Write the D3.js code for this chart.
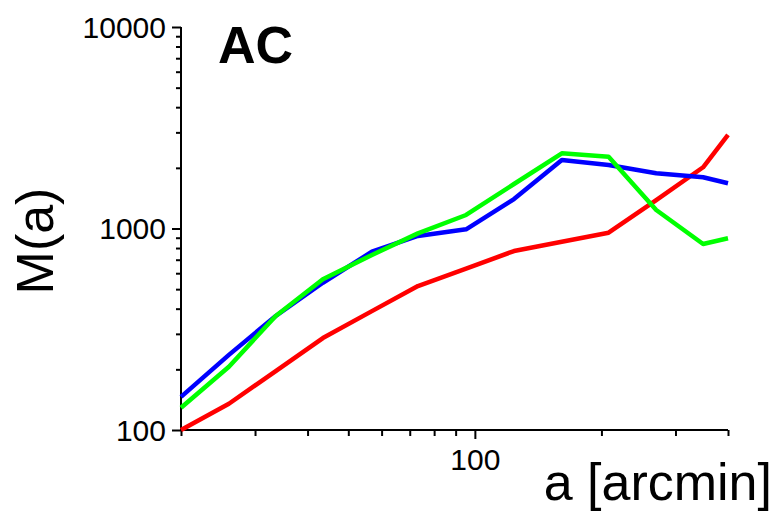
<!DOCTYPE html>
<html>
<head>
<meta charset="utf-8">
<script src="https://cdn.jsdelivr.net/npm/d3@7"></script>
<style>
  body { margin: 0; background: #fff; }
  svg { display: block; font-family: "Liberation Sans", Arial, sans-serif; }
</style>
</head>
<body>
<svg id="chart" width="779" height="513"></svg>
<script>
// data (a in arcmin, M(a))
var aValues = [20, 26, 33.6, 43.5, 56.9, 73.2, 95.3, 123.9, 161, 208, 270, 349, 400];
var blueM  = [146, 236, 368, 538, 767, 918, 991, 1400, 2188, 2065, 1879, 1795, 1676];
var greenM = [129, 206, 368, 560, 739, 946, 1167, 1663, 2361, 2270, 1236, 838, 894];
var redM   = [100, 135, 196, 286, 389, 518, 633, 773, 860, 953, 1384, 2013, 2911];

var xMajor = [100];
var xMinor = [20, 30, 40, 50, 60, 70, 80, 90, 200, 300, 400];
var yMajor = [100, 1000, 10000];
var yMinor = [200, 300, 400, 500, 600, 700, 800, 900, 2000, 3000, 4000, 5000, 6000, 7000, 8000, 9000];

var svg = d3.select("#chart");

var x = d3.scaleLog().domain([20, 400]).range([181, 728]);
var y = d3.scaleLog().domain([100, 10000]).range([430, 27]);

// axes: minor and major ticks in their own groups
function axisGroup(axis, transform) {
  var g = svg.append("g").attr("transform", transform).call(axis);
  g.select(".domain").remove();
  g.selectAll(".tick line").attr("stroke", "#000").attr("stroke-width", 2);
  g.selectAll("text").attr("font-size", 30).attr("fill", "#000")
    .attr("font-family", "Liberation Sans, Arial, sans-serif");
  return g;
}

axisGroup(d3.axisBottom(x).tickValues(xMinor).tickSize(6).tickFormat(""), "translate(0,430)");
var gx = axisGroup(d3.axisBottom(x).tickValues(xMajor).tickSize(9).tickFormat(d3.format("d")), "translate(0,430)");
gx.selectAll("text").attr("y", 19).attr("dy", "0.71em");

axisGroup(d3.axisLeft(y).tickValues(yMinor).tickSize(5).tickFormat(""), "translate(181,0)");
var gy = axisGroup(d3.axisLeft(y).tickValues(yMajor).tickSize(9).tickFormat(d3.format("d")), "translate(181,0)");
gy.selectAll("text").attr("x", -15).attr("dy", "0.34em");

svg.append("line").attr("x1", 181).attr("x2", 728).attr("y1", 430).attr("y2", 430)
  .attr("stroke", "#000").attr("stroke-width", 2);
svg.append("line").attr("x1", 181).attr("x2", 181).attr("y1", 27).attr("y2", 431)
  .attr("stroke", "#000").attr("stroke-width", 2);

// series
var line = d3.line()
    .x(function (d) { return x(d[0]); })
    .y(function (d) { return y(d[1]); });

var series = [
  { vals: redM, color: "#ff0000" },
  { vals: blueM, color: "#0000ff" },
  { vals: greenM, color: "#00ff00" }
];

series.forEach(function (s) {
  svg.append("path")
    .datum(aValues.map(function (a, i) { return [a, s.vals[i]]; }))
    .attr("d", line)
    .attr("fill", "none")
    .attr("stroke", s.color)
    .attr("stroke-width", 4.5)
    .attr("stroke-linejoin", "round");
});

// labels
svg.append("text").attr("x", 218).attr("y", 63)
  .attr("font-size", 52).attr("font-weight", "bold").text("AC");

svg.append("text").attr("transform", "translate(53,241) rotate(-90)")
  .attr("text-anchor", "middle").attr("font-size", 52).text("M(a)");

svg.append("text").attr("x", 772).attr("y", 500)
  .attr("text-anchor", "end").attr("font-size", 52).text("a [arcmin]");
</script>
</body>
</html>
